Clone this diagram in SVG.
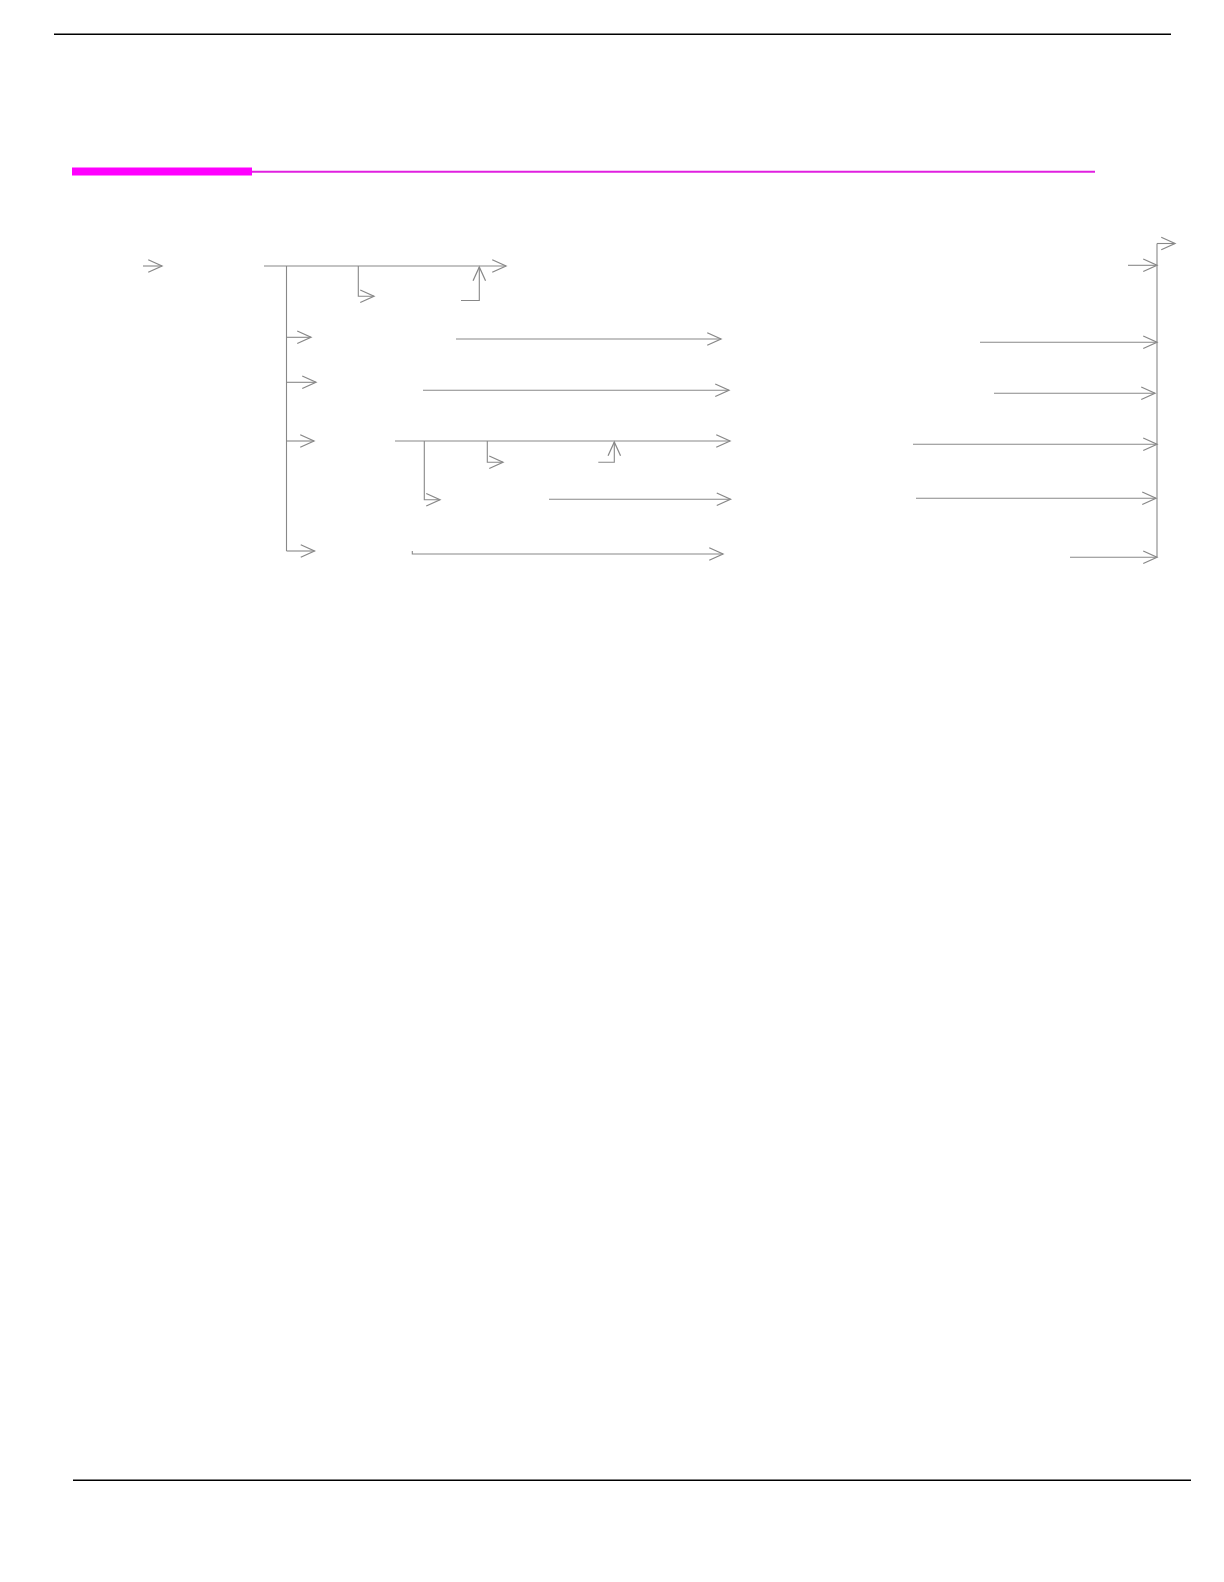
<svg xmlns="http://www.w3.org/2000/svg" width="1224" height="1582" viewBox="0 0 1224 1582">
<style>
.rule{stroke:#000;stroke-width:1.5;fill:none}
.c{stroke:#888;stroke-width:1.1;fill:none}
.ca{stroke:#888;stroke-width:1.1;fill:none;marker-end:url(#arr)}
</style>
<defs>
<marker id="arr" markerUnits="userSpaceOnUse" orient="auto" refX="0" refY="0" markerWidth="20" markerHeight="20" viewBox="-14 -8 16 16" overflow="visible">
<path d="M-11,-5 L0,0 L-11,5" fill="none" stroke="#888" stroke-width="1"/>
</marker>
</defs>
<rect width="1224" height="1582" fill="#fff"/>
<g id="frame">
<line class="rule" x1="54" y1="34.3" x2="1171" y2="34.3"/>
<line class="rule" x1="73" y1="1480.3" x2="1191" y2="1480.3"/>
<rect x="72" y="167.5" width="180" height="8" fill="#ff00ff"/>
<line x1="252" y1="171.7" x2="1095" y2="171.7" stroke="#e020e0" stroke-width="2"/>
</g>
<g id="connectors">
<path class="ca" d="M143,266 H162"/>
<path class="ca" d="M264,266 H506"/>
<path class="c" d="M286.5,266 V551"/>
<path class="ca" d="M358.3,266 V296.3 H374"/>
<path class="ca" d="M461,300.5 H479.3 V267"/>
<path class="ca" d="M286.5,337.3 H311"/>
<path class="ca" d="M456,339 H721"/>
<path class="ca" d="M286.5,382.3 H316"/>
<path class="ca" d="M423,390.3 H729"/>
<path class="ca" d="M286.5,441 H314"/>
<path class="ca" d="M395,441 H730"/>
<path class="ca" d="M424.3,441 V499.7 H440"/>
<path class="ca" d="M487.3,441 V462.3 H503"/>
<path class="ca" d="M598.3,462.3 H614.3 V442"/>
<path class="ca" d="M549,499.3 H730.5"/>
<path class="ca" d="M286.5,551 H314.5"/>
<path class="ca" d="M412.3,551 V554 H723"/>
<path class="c" d="M1157,557.3 V243.5"/>
<path class="ca" d="M1157,243.5 H1175"/>
<path class="ca" d="M1128,265.3 H1157"/>
<path class="ca" d="M980,342.3 H1157"/>
<path class="ca" d="M994,393.3 H1155"/>
<path class="ca" d="M913,444.3 H1157"/>
<path class="ca" d="M916,498.3 H1156"/>
<path class="ca" d="M1070,557.3 H1157"/>
</g>
</svg>
